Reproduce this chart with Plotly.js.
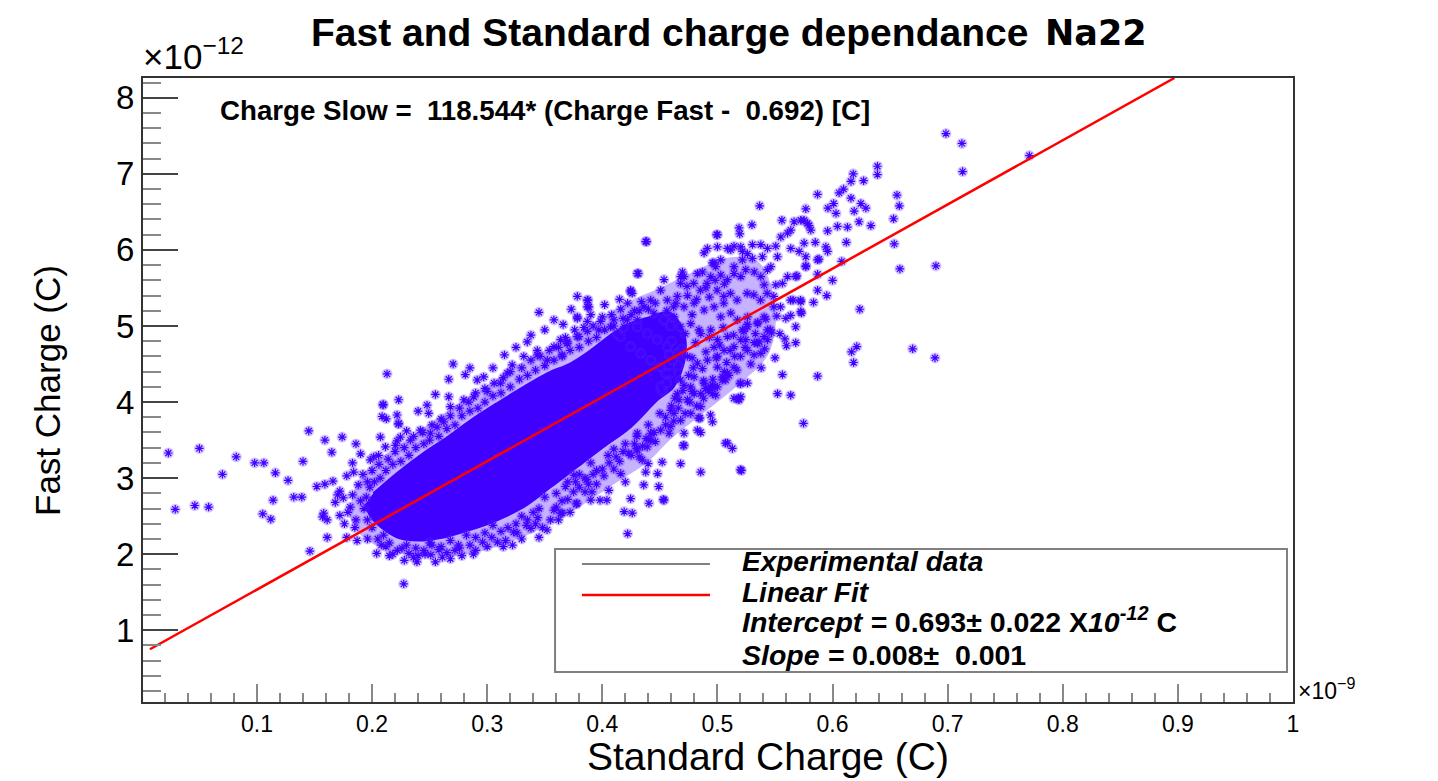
<!DOCTYPE html>
<html>
<head>
<meta charset="utf-8">
<script src="https://cdn.plot.ly/plotly-3.0.1.min.js"></script>
<style>
  html, body { margin: 0; padding: 0; background: #ffffff; }
  #chart { width: 1438px; height: 781px; }
</style>
</head>
<body>
<div id="chart"></div>
<script>
// =============================================================================
// Fast vs Standard charge (Na22) — scatter of events + linear fit, ROOT look
// x values in units of 1e-9 C, y values in units of 1e-12 C
// =============================================================================

// ─── Axis ticks ────────────────────────────────────────────────────────────
const xTickVals = [0.1, 0.2, 0.3, 0.4, 0.5, 0.6, 0.7, 0.8, 0.9, 1.0];
const xTickText = ['0.1', '0.2', '0.3', '0.4', '0.5', '0.6', '0.7', '0.8', '0.9', '1'];
const yTickVals = [1, 2, 3, 4, 5, 6, 7, 8];
const yTickText = ['1', '2', '3', '4', '5', '6', '7', '8'];

// ─── Linear fit (end points) ───────────────────────────────────────────────
const fitX = [0.007, 0.897];
const fitY = [0.75, 8.26];

// ─── Saturated core of the event cloud (outline) ───────────────────────────
const coreEdgeX = [0.2011, 0.2220, 0.2446, 0.2655, 0.2855, 0.3090, 0.3316, 0.3525, 0.3725, 0.3898,
  0.4098, 0.4246, 0.4420, 0.4580, 0.4700, 0.4720, 0.4620, 0.4481, 0.4246, 0.4011,
  0.3785, 0.3550, 0.3316, 0.3090, 0.2855, 0.2620, 0.2394, 0.2220, 0.2072, 0.1985,
  0.1940];
const coreEdgeY = [2.80, 3.07, 3.33, 3.54, 3.76, 3.99, 4.20, 4.38, 4.51, 4.68,
  4.91, 5.04, 5.12, 5.18, 4.95, 4.60, 4.20, 4.03, 3.67, 3.41,
  3.15, 2.88, 2.62, 2.45, 2.32, 2.22, 2.18, 2.22, 2.36, 2.50,
  2.66];

// ─── Crowded band round the core, where the stars overlap (outline) ────────
const bandEdgeX = [0.180, 0.186, 0.200, 0.225, 0.250, 0.275, 0.300, 0.330, 0.360, 0.390,
  0.420, 0.450, 0.480, 0.510, 0.535, 0.550, 0.545, 0.520, 0.490, 0.460,
  0.440, 0.410, 0.380, 0.350, 0.320, 0.290, 0.260, 0.230, 0.205, 0.188];
const bandEdgeY = [2.50, 2.90, 3.18, 3.45, 3.72, 3.98, 4.22, 4.52, 4.76, 5.02,
  5.30, 5.50, 5.72, 5.90, 5.85, 5.30, 4.65, 4.25, 3.88, 3.52,
  3.22, 2.92, 2.62, 2.36, 2.16, 2.02, 1.97, 1.99, 2.10, 2.28];

// ─── Events: left tail ─────────────────────────────────────────────────────
const leftTailX = [0.023, 0.050, 0.029, 0.046, 0.058, 0.070, 0.082, 0.098, 0.106, 0.116,
  0.127, 0.114, 0.105, 0.112, 0.145, 0.159, 0.174, 0.165, 0.140, 0.152,
  0.159, 0.132, 0.139, 0.172, 0.170, 0.175, 0.158, 0.157, 0.161, 0.172,
  0.161, 0.146, 0.178, 0.183, 0.184, 0.178, 0.181, 0.186, 0.183, 0.188,
  0.185, 0.179, 0.190, 0.187, 0.176, 0.168, 0.166, 0.190, 0.186, 0.192];
const leftTailY = [3.33, 3.39, 2.59, 2.64, 2.62, 3.05, 3.28, 3.20, 3.20, 3.07,
  2.97, 2.71, 2.53, 2.46, 3.62, 3.50, 3.54, 3.34, 3.22, 2.89,
  2.92, 2.75, 2.75, 2.83, 2.78, 2.74, 2.54, 2.49, 2.45, 2.51,
  2.22, 2.04, 2.22, 3.20, 3.08, 3.03, 2.62, 2.45, 2.78, 2.91,
  2.35, 2.55, 2.70, 2.18, 2.40, 2.68, 2.96, 3.32, 3.45, 3.05];

// ─── Events: rim of the core, lower side ───────────────────────────────────
const lowerEdgeX = [0.405, 0.410, 0.415, 0.420, 0.425, 0.430, 0.435, 0.440, 0.445, 0.450,
  0.455, 0.460, 0.390, 0.395, 0.385, 0.380, 0.370, 0.375, 0.360, 0.365,
  0.350, 0.345, 0.340, 0.335, 0.330, 0.325, 0.318, 0.312, 0.305, 0.298,
  0.290, 0.282, 0.275, 0.268, 0.260, 0.252, 0.245, 0.238, 0.230, 0.222,
  0.215, 0.210, 0.205, 0.200, 0.196, 0.193, 0.195, 0.198, 0.202, 0.207];
const lowerEdgeY = [3.30, 3.38, 3.22, 3.45, 3.30, 3.55, 3.42, 3.70, 3.60, 3.85,
  3.70, 3.95, 3.20, 3.10, 3.00, 3.05, 2.95, 2.82, 2.80, 2.70,
  2.75, 2.60, 2.55, 2.45, 2.50, 2.40, 2.35, 2.30, 2.38, 2.28,
  2.22, 2.25, 2.12, 2.18, 2.10, 2.12, 2.05, 2.08, 2.12, 2.05,
  2.15, 2.25, 2.20, 2.35, 2.45, 2.60, 2.75, 2.88, 2.95, 3.00];

// ─── Events: rim of the core, upper side ───────────────────────────────────
const upperEdgeX = [0.212, 0.218, 0.225, 0.232, 0.238, 0.245, 0.250, 0.258, 0.265, 0.272,
  0.278, 0.285, 0.292, 0.298, 0.305, 0.312, 0.320, 0.328, 0.335, 0.342,
  0.350, 0.358, 0.365, 0.372, 0.380, 0.388, 0.395, 0.402, 0.410, 0.418,
  0.425, 0.432, 0.440];
const upperEdgeY = [3.10, 3.18, 3.22, 3.30, 3.40, 3.45, 3.50, 3.55, 3.65, 3.70,
  3.82, 3.88, 3.92, 4.00, 4.08, 4.12, 4.20, 4.30, 4.35, 4.42,
  4.48, 4.55, 4.62, 4.68, 4.72, 4.80, 4.85, 4.95, 5.00, 5.10,
  5.15, 5.20, 5.22];

// ─── Events: second ring around the core ───────────────────────────────────
const outerRingX = [0.208, 0.218, 0.226, 0.236, 0.246, 0.258, 0.268, 0.276, 0.288, 0.296,
  0.304, 0.314, 0.326, 0.334, 0.344, 0.348, 0.358, 0.362, 0.370, 0.380,
  0.388, 0.392, 0.400, 0.406, 0.412, 0.418, 0.428, 0.432, 0.438, 0.446,
  0.455, 0.462, 0.466, 0.472, 0.476, 0.482, 0.488, 0.492, 0.500, 0.510,
  0.196, 0.200, 0.206, 0.214, 0.220, 0.228, 0.236, 0.244, 0.252, 0.260,
  0.268, 0.276, 0.284, 0.290, 0.298, 0.306, 0.314, 0.320, 0.330, 0.338,
  0.346, 0.354, 0.362, 0.368, 0.376, 0.384, 0.392, 0.400, 0.408, 0.416,
  0.422, 0.434, 0.446, 0.456, 0.464, 0.474, 0.482, 0.490, 0.498, 0.506];
const outerRingY = [2.12, 2.00, 2.08, 1.96, 2.00, 2.06, 1.94, 2.08, 2.00, 2.16,
  2.22, 2.10, 2.28, 2.38, 2.48, 2.35, 2.58, 2.45, 2.72, 2.88,
  2.92, 3.05, 3.12, 3.20, 3.28, 3.35, 3.45, 3.28, 3.52, 3.48,
  3.80, 3.75, 3.92, 3.85, 4.00, 3.95, 4.05, 4.15, 4.20, 4.35,
  2.95, 3.10, 3.18, 3.25, 3.35, 3.40, 3.55, 3.60, 3.70, 3.78,
  3.82, 3.92, 4.00, 4.12, 4.18, 4.25, 4.32, 4.40, 4.45, 4.55,
  4.60, 4.68, 4.72, 4.85, 4.95, 4.98, 5.00, 5.12, 5.15, 5.22,
  5.30, 5.32, 5.30, 5.20, 5.30, 5.40, 5.35, 5.50, 5.60, 5.55];

// ─── Events: below the core ────────────────────────────────────────────────
const lowerFringeX = [0.204, 0.232, 0.239, 0.251, 0.261, 0.272, 0.2275, 0.309, 0.316, 0.323,
  0.338, 0.345, 0.352, 0.364, 0.378, 0.390, 0.398, 0.404, 0.422, 0.419,
  0.426, 0.4405, 0.4536, 0.436, 0.449, 0.416, 0.420, 0.4377, 0.448, 0.468,
  0.4855, 0.520, 0.507, 0.513, 0.4826, 0.471, 0.458, 0.4957, 0.494, 0.4837,
  0.442, 0.4304, 0.423, 0.452, 0.5188, 0.520, 0.471, 0.5087, 0.5209, 0.4849,
  0.4855, 0.4704, 0.453, 0.4246, 0.391, 0.4057, 0.3774, 0.3652, 0.4014, 0.3863,
  0.4346, 0.4398, 0.4298, 0.439, 0.4405, 0.4304, 0.3753, 0.368, 0.3768, 0.4594,
  0.4623, 0.4666, 0.478, 0.4797, 0.4898, 0.4985, 0.4957, 0.5043, 0.471, 0.196,
  0.215, 0.228, 0.240, 0.255, 0.265, 0.278, 0.290, 0.300, 0.285, 0.330,
  0.355, 0.372, 0.385, 0.395, 0.410, 0.360, 0.342, 0.322, 0.212, 0.250];
const lowerFringeY = [2.01, 2.01, 1.90, 1.99, 1.96, 2.05, 1.61, 2.16, 2.18, 2.29,
  2.34, 2.22, 2.32, 2.54, 2.67, 2.71, 2.71, 2.71, 2.27, 2.56,
  2.54, 2.67, 2.71, 2.91, 2.89, 3.06, 2.95, 3.08, 3.06, 3.19,
  3.08, 3.11, 3.46, 3.39, 3.63, 3.59, 3.59, 3.74, 3.83, 3.79,
  3.50, 3.37, 3.33, 3.21, 4.03, 4.25, 3.43, 3.46, 3.10, 3.79,
  3.60, 3.43, 2.72, 2.73, 2.82, 2.84, 2.66, 2.54, 3.03, 2.98,
  3.24, 3.19, 3.39, 3.41, 3.51, 3.59, 3.04, 2.89, 2.95, 3.89,
  3.85, 4.03, 4.14, 4.11, 4.18, 4.09, 4.22, 4.29, 4.22, 2.20,
  1.98, 1.92, 1.98, 1.90, 2.02, 1.98, 2.05, 2.10, 2.12, 2.20,
  2.45, 2.55, 2.82, 2.92, 3.12, 2.62, 2.40, 2.12, 2.10, 2.15];

// ─── Events: above the core ────────────────────────────────────────────────
const upperFringeX = [0.213, 0.2704, 0.281, 0.2666, 0.297, 0.2096, 0.2231, 0.2478, 0.2087, 0.2217,
  0.2231, 0.2492, 0.2666, 0.268, 0.2072, 0.2246, 0.2333, 0.242, 0.2507, 0.2565,
  0.2623, 0.2797, 0.2883, 0.300, 0.2913, 0.3116, 0.3174, 0.3217, 0.3318, 0.3435,
  0.3522, 0.3348, 0.3435, 0.358, 0.3637, 0.3696, 0.3783, 0.358, 0.3783, 0.387,
  0.3884, 0.397, 0.3783, 0.3985, 0.3797, 0.4304, 0.4246, 0.4377, 0.410, 0.4188,
  0.4304, 0.413, 0.442, 0.4536, 0.468, 0.4826, 0.4884, 0.497, 0.5116, 0.5203,
  0.2096, 0.2229, 0.2124, 0.2217, 0.2116, 0.2203, 0.2014, 0.2057, 0.1985, 0.4313,
  0.4385, 0.4246, 0.426, 0.3875, 0.387, 0.3783, 0.387, 0.387, 0.3696, 0.3652,
  0.4696, 0.471, 0.487, 0.4985, 0.305, 0.315, 0.325, 0.338, 0.350, 0.366,
  0.373, 0.390, 0.402, 0.415, 0.428, 0.345, 0.285, 0.255, 0.240, 0.230];
const upperFringeY = [4.37, 4.50, 4.36, 4.30, 4.33, 3.97, 4.03, 3.96, 3.81, 3.83,
  3.72, 3.85, 4.07, 3.94, 3.54, 3.54, 3.50, 3.63, 3.59, 3.67,
  3.74, 4.03, 4.07, 4.14, 4.29, 4.25, 4.38, 4.49, 4.60, 4.62,
  4.55, 4.79, 4.68, 4.73, 4.82, 4.77, 4.86, 5.08, 5.39, 5.34,
  5.25, 4.95, 5.12, 5.06, 4.86, 5.69, 5.47, 6.11, 5.08, 4.99,
  5.08, 4.90, 5.34, 5.61, 5.65, 5.69, 5.96, 5.83, 6.00, 6.04,
  3.96, 3.71, 3.78, 3.49, 3.41, 3.43, 3.28, 3.30, 3.24, 5.69,
  6.11, 5.45, 5.43, 5.34, 5.25, 5.10, 5.06, 4.93, 4.79, 4.60,
  5.71, 5.65, 5.71, 5.78, 4.45, 4.62, 4.72, 4.88, 4.95, 5.02,
  5.22, 5.15, 5.28, 5.35, 5.20, 5.18, 4.45, 4.10, 3.88, 3.62];

// ─── Events: shoulder of the cloud (0.42 – 0.58) ───────────────────────────
const shoulderX = [0.500, 0.4913, 0.500, 0.5087, 0.5144, 0.5217, 0.5261, 0.5304, 0.5377, 0.5435,
  0.5507, 0.5551, 0.5609, 0.5637, 0.5724, 0.5782, 0.4957, 0.5029, 0.5144, 0.5217,
  0.5304, 0.5391, 0.5464, 0.5522, 0.5637, 0.5710, 0.5753, 0.5768, 0.5870, 0.4942,
  0.5029, 0.5087, 0.5144, 0.5203, 0.5246, 0.5320, 0.5377, 0.5435, 0.5406, 0.5507,
  0.5565, 0.5609, 0.5681, 0.4680, 0.4736, 0.4794, 0.4852, 0.4910, 0.4997, 0.5055,
  0.5113, 0.5171, 0.5258, 0.5316, 0.5374, 0.5432, 0.5490, 0.5548, 0.5635, 0.5722,
  0.4507, 0.4565, 0.4652, 0.4710, 0.4797, 0.4884, 0.4971, 0.5029, 0.5116, 0.5174,
  0.5261, 0.5348, 0.5406, 0.5261, 0.5435, 0.4362, 0.4449, 0.4536, 0.4623, 0.4680,
  0.4768, 0.4855, 0.4942, 0.5000, 0.5087, 0.5144, 0.5203, 0.5261, 0.5348, 0.5377,
  0.5435, 0.4217, 0.4304, 0.4391, 0.4478, 0.4565, 0.4652, 0.4739, 0.4826, 0.4913,
  0.5000, 0.5087, 0.4797, 0.4884, 0.4971, 0.4072, 0.4159, 0.4246, 0.4333, 0.4420,
  0.4507, 0.4594, 0.4680, 0.4768, 0.4855, 0.4652, 0.4739, 0.4507, 0.4520, 0.4550,
  0.458, 0.460, 0.463, 0.466, 0.469, 0.472, 0.475, 0.478, 0.481, 0.484,
  0.487, 0.490, 0.493, 0.496, 0.499, 0.502, 0.505, 0.508, 0.511, 0.514,
  0.517, 0.520, 0.523, 0.526, 0.529, 0.532, 0.535, 0.456, 0.461, 0.470,
  0.479, 0.488, 0.497, 0.506, 0.515, 0.524, 0.533, 0.541, 0.546, 0.550,
  0.538, 0.500, 0.5058, 0.5144, 0.5072, 0.4942, 0.5043, 0.5261, 0.5203, 0.5144,
  0.4957, 0.4855, 0.4768, 0.4680, 0.4594, 0.4507, 0.4420, 0.5490, 0.5637, 0.5724,
  0.5680, 0.5406, 0.5362, 0.5217, 0.5246, 0.5055, 0.4590, 0.4780, 0.4620, 0.4930];
const shoulderY = [6.20, 6.02, 6.04, 6.02, 6.05, 5.98, 5.95, 6.07, 6.07, 6.02,
  6.05, 6.17, 6.22, 6.26, 6.39, 6.35, 5.83, 5.87, 5.78, 5.87,
  5.89, 5.91, 5.78, 5.91, 6.02, 5.98, 6.09, 5.78, 5.87, 5.65,
  5.67, 5.61, 5.69, 5.65, 5.74, 5.71, 5.65, 5.74, 5.54, 5.54,
  5.56, 5.65, 5.65, 5.56, 5.52, 5.56, 5.47, 5.56, 5.47, 5.39,
  5.43, 5.34, 5.43, 5.41, 5.34, 5.43, 5.39, 5.25, 5.34, 5.34,
  5.47, 5.34, 5.39, 5.25, 5.30, 5.21, 5.25, 5.12, 5.17, 5.08,
  5.12, 5.03, 5.12, 4.99, 4.95, 5.25, 5.17, 5.08, 5.12, 4.99,
  5.03, 4.90, 4.95, 4.82, 4.86, 4.73, 4.82, 4.68, 4.77, 4.64,
  4.82, 5.08, 4.99, 4.90, 4.82, 4.73, 4.64, 4.60, 4.51, 4.55,
  4.46, 4.38, 4.33, 4.25, 4.20, 4.99, 4.86, 4.73, 4.64, 4.55,
  4.46, 4.38, 4.29, 4.20, 4.11, 4.11, 4.03, 4.20, 4.15, 4.38,
  4.62, 4.80, 4.05, 4.48, 4.70, 4.90, 4.35, 4.58, 4.78, 4.95,
  4.44, 4.66, 4.85, 4.30, 4.58, 4.75, 4.98, 4.52, 4.68, 4.88,
  4.42, 4.60, 4.93, 5.02, 4.50, 4.78, 5.05, 4.25, 4.55, 4.15,
  4.45, 4.28, 4.72, 4.40, 4.60, 4.72, 4.90, 4.70, 4.95, 4.58,
  4.45, 4.60, 4.68, 4.46, 4.29, 4.20, 4.33, 4.25, 4.07, 4.05,
  4.11, 3.94, 3.85, 3.76, 3.68, 3.63, 3.59, 5.25, 5.14, 5.19,
  4.99, 4.86, 4.79, 4.95, 4.82, 5.30, 5.00, 5.15, 5.25, 5.38];

// ─── Events: far right / upper tail ────────────────────────────────────────
const farRightX = [0.6985, 0.7124, 0.7130, 0.6390, 0.6390, 0.6180, 0.6160, 0.6270, 0.6096, 0.6057,
  0.5870, 0.6160, 0.6010, 0.5960, 0.6030, 0.6188, 0.6246, 0.6290, 0.6560, 0.6580,
  0.6530, 0.5768, 0.5367, 0.5300, 0.5560, 0.5666, 0.5753, 0.5797, 0.5811, 0.5957,
  0.6043, 0.6130, 0.6230, 0.6333, 0.5188, 0.5194, 0.4994, 0.6536, 0.6585, 0.6898,
  0.6237, 0.6696, 0.6890, 0.6211, 0.6165, 0.6183, 0.5565, 0.5870, 0.5522, 0.5637,
  0.5748, 0.5200, 0.5180, 0.5318, 0.5680, 0.5600, 0.5586, 0.5542, 0.5470, 0.5835,
  0.5724, 0.5730, 0.5657, 0.5594, 0.5516, 0.5420, 0.5870, 0.5870, 0.5883, 0.5957,
  0.5942, 0.5768, 0.5768, 0.5690, 0.7710, 0.6000, 0.6080, 0.5950, 0.6120, 0.5850];
const farRightY = [7.53, 7.40, 7.03, 7.10, 6.99, 7.00, 6.90, 6.91, 6.80, 6.75,
  6.73, 6.68, 6.61, 6.55, 6.48, 6.51, 6.61, 6.55, 6.72, 6.58,
  6.41, 6.54, 6.58, 6.33, 6.39, 6.37, 6.39, 6.32, 6.26, 6.25,
  6.31, 6.30, 6.37, 6.32, 6.29, 6.21, 6.20, 6.08, 5.75, 5.79,
  5.22, 4.70, 4.58, 4.73, 4.66, 4.52, 4.36, 4.34, 4.11, 4.09,
  3.72, 4.24, 4.04, 4.62, 4.78, 4.74, 4.83, 4.90, 4.91, 5.31,
  5.32, 5.17, 5.34, 5.10, 5.13, 5.09, 5.47, 5.68, 5.88, 5.98,
  6.04, 5.79, 5.91, 5.66, 7.24, 5.60, 5.85, 5.40, 6.10, 6.10];

// ─── Style ─────────────────────────────────────────────────────────────────
const COLORS = {
  marker: '#4200ff',
  halo: 'rgba(90, 50, 255, 0.28)',
  band: 'rgba(66, 0, 255, 0.30)',
  core: '#4000ff',
  fit: '#ff0000',
  axis: '#333333',
  tick: '#888888',
  legendLine: '#808080',
  text: '#000000'
};
const FONT = 'Liberation Sans, Arial, Helvetica, sans-serif';

const eventsX = [].concat(leftTailX, lowerEdgeX, upperEdgeX, outerRingX, lowerFringeX, upperFringeX, shoulderX, farRightX);
const eventsY = [].concat(leftTailY, lowerEdgeY, upperEdgeY, outerRingY, lowerFringeY, upperFringeY, shoulderY, farRightY);

const traces = [
  {
    // crowded band where the stars overlap
    x: bandEdgeX, y: bandEdgeY,
    type: 'scatter', mode: 'lines',
    fill: 'toself', fillcolor: COLORS.band,
    line: { width: 0, shape: 'spline' },
    hoverinfo: 'skip'
  },
  {
    // saturated centre of the cloud
    x: coreEdgeX, y: coreEdgeY,
    type: 'scatter', mode: 'lines',
    fill: 'toself', fillcolor: COLORS.core,
    line: { color: COLORS.core, width: 2, shape: 'spline' },
    hoverinfo: 'skip'
  },
  {
    // soft halo round every star (anti-aliasing of the original markers)
    x: eventsX, y: eventsY,
    type: 'scatter', mode: 'markers',
    marker: { symbol: 'circle', size: 11, color: COLORS.halo, line: { width: 0 } },
    hoverinfo: 'skip'
  },
  {
    x: eventsX, y: eventsY,
    type: 'scatter', mode: 'markers',
    name: 'Experimental data',
    marker: {
      symbol: 'asterisk-open', size: 7, color: COLORS.marker,
      line: { color: COLORS.marker, width: 1.2 }
    }
  },
  {
    x: fitX, y: fitY,
    type: 'scatter', mode: 'lines',
    name: 'Linear Fit',
    line: { color: COLORS.fit, width: 2.5 }
  }
];

// all texts are placed in plot-area fractions (paper coordinates)
const annotations = [
  { text: '<b>Fast and Standard charge dependance</b>', x: 0.7713, y: 1.0737,
    xanchor: 'right', yanchor: 'middle', font: { family: FONT, size: 39, color: COLORS.text } },
  { text: '<b>Na22</b>', x: 0.7825, y: 1.0721, xanchor: 'left', yanchor: 'middle',
    font: { family: 'DejaVu Sans, sans-serif', size: 35, color: COLORS.text } },
  { text: '×10<sup>−12</sup>', x: -0.002, y: 1.0, xanchor: 'left', yanchor: 'bottom',
    font: { family: FONT, size: 35, color: COLORS.text } },
  { text: '×10<sup>−9</sup>', x: 1.0026, y: -0.006, xanchor: 'left', yanchor: 'bottom',
    font: { family: FONT, size: 23, color: COLORS.text } },
  { text: 'Standard Charge (C)', x: 0.5435, y: -0.05, xanchor: 'center', yanchor: 'top',
    font: { family: FONT, size: 39, color: COLORS.text } },
  { text: 'Fast Charge (C)', x: -0.0835, y: 0.5, xanchor: 'center', yanchor: 'middle', textangle: -90,
    font: { family: FONT, size: 35, color: COLORS.text } },
  { text: '<b>Charge Slow =  118.544* (Charge Fast -  0.692) [C]</b>', x: 0.0652, y: 0.9487,
    xanchor: 'left', yanchor: 'middle', font: { family: FONT, size: 27.7, color: COLORS.text } },
  // legend entries
  { text: '<b><i>Experimental data</i></b>', x: 0.5191, y: 0.2244, xanchor: 'left', yanchor: 'middle',
    font: { family: FONT, size: 28, color: COLORS.text } },
  { text: '<b><i>Linear Fit</i></b>', x: 0.5191, y: 0.1747, xanchor: 'left', yanchor: 'middle',
    font: { family: FONT, size: 28, color: COLORS.text } },
  { text: '<b><i>Intercept =</i> 0.693± 0.022 X<i>10<sup>-12</sup></i> C</b>', x: 0.5191, y: 0.131,
    xanchor: 'left', yanchor: 'middle', font: { family: FONT, size: 28.5, color: COLORS.text } },
  { text: '<b><i>Slope =</i> 0.008±  0.001</b>', x: 0.5191, y: 0.0753, xanchor: 'left', yanchor: 'middle',
    font: { family: FONT, size: 28.5, color: COLORS.text } }
].map(a => Object.assign({ xref: 'paper', yref: 'paper', showarrow: false }, a));

const shapes = [
  { type: 'rect', xref: 'paper', yref: 'paper', x0: 0.3583, x1: 0.9948, y0: 0.0481, y1: 0.2452,
    line: { color: COLORS.legendLine, width: 2 }, fillcolor: 'rgba(255,255,255,1)', layer: 'above' },
  { type: 'line', xref: 'paper', yref: 'paper', x0: 0.3817, x1: 0.493, y0: 0.2212, y1: 0.2212,
    line: { color: COLORS.legendLine, width: 2 } },
  { type: 'line', xref: 'paper', yref: 'paper', x0: 0.3817, x1: 0.493, y0: 0.1715, y1: 0.1715,
    line: { color: COLORS.fit, width: 2.5 } }
];

const layout = {
  width: 1438, height: 781,
  margin: { l: 143, r: 145, t: 78, b: 79 },
  paper_bgcolor: '#ffffff', plot_bgcolor: '#ffffff',
  showlegend: false,
  font: { family: FONT, color: COLORS.text },
  xaxis: {
    range: [0.001, 1.0],
    tickmode: 'array', tickvals: xTickVals, ticktext: xTickText,
    ticks: 'inside', ticklen: 18, tickwidth: 2, tickcolor: COLORS.tick,
    tickfont: { family: FONT, size: 23, color: COLORS.text },
    minor: { tickmode: 'linear', tick0: 0, dtick: 0.02, ticks: 'inside', ticklen: 9, tickwidth: 2, tickcolor: COLORS.tick, showgrid: false },
    showline: true, linecolor: COLORS.axis, linewidth: 2, mirror: true,
    showgrid: false, zeroline: false
  },
  yaxis: {
    range: [0.057, 8.26],
    tickmode: 'array', tickvals: yTickVals, ticktext: yTickText,
    ticks: 'inside', ticklen: 35, tickwidth: 2, tickcolor: '#444444',
    tickfont: { family: FONT, size: 33, color: COLORS.text },
    minor: { tickmode: 'linear', tick0: 0, dtick: 0.2, ticks: 'inside', ticklen: 18, tickwidth: 2, tickcolor: COLORS.tick, showgrid: false },
    showline: true, linecolor: COLORS.axis, linewidth: 2, mirror: true,
    showgrid: false, zeroline: false
  },
  annotations: annotations,
  shapes: shapes
};

Plotly.newPlot('chart', traces, layout, { displayModeBar: false, responsive: false });
</script>
</body>
</html>
